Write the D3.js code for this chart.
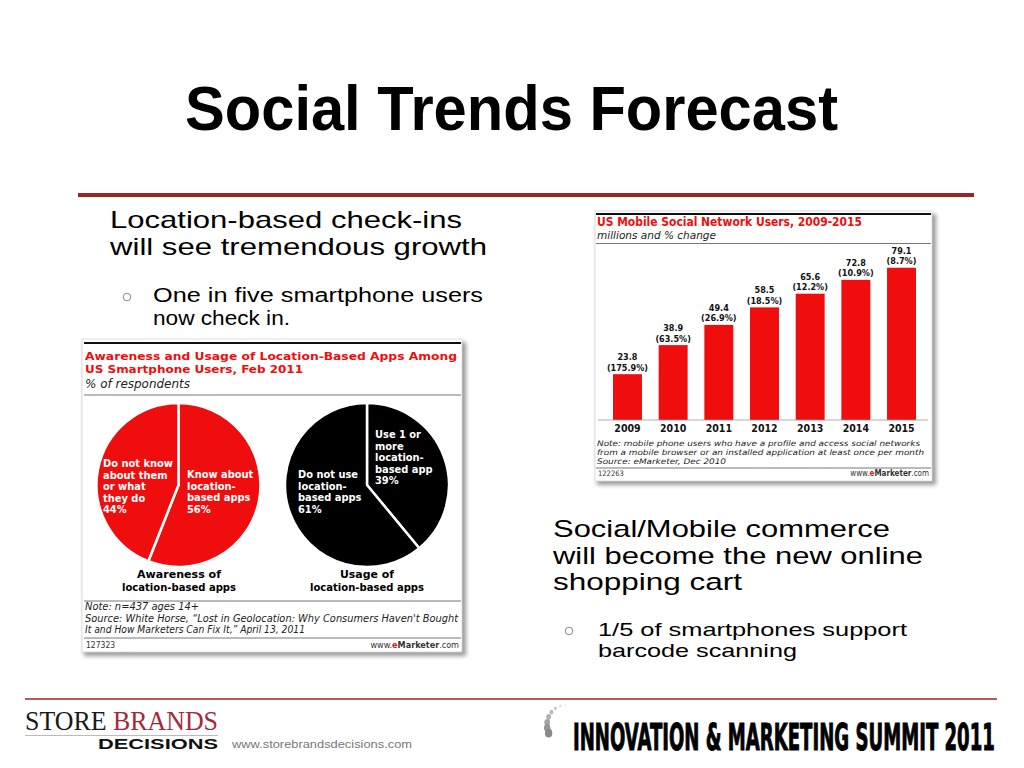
<!DOCTYPE html>
<html>
<head>
<meta charset="utf-8">
<script src="https://d3js.org/d3.v7.min.js"></script>
<style>
  html, body { margin: 0; padding: 0; background: #fff; }
  svg { display: block; }
</style>
</head>
<body>
<svg id="slide" width="1024" height="768"></svg>
<script>
// ---------------- DATA ----------------
const years = ["2009", "2010", "2011", "2012", "2013", "2014", "2015"];
const users = [23.8, 38.9, 49.4, 58.5, 65.6, 72.8, 79.1];
const pctChange = ["175.9%", "63.5%", "26.9%", "18.5%", "12.2%", "10.9%", "8.7%"];

const awarenessCats = ["Know about location-based apps", "Do not know about them or what they do"];
const awarenessValues = [56, 44];
const awarenessLabelLines = [["Know about", "location-", "based apps", "56%"],
                             ["Do not know", "about them", "or what", "they do", "44%"]];
const usageCats = ["Use 1 or more location-based app", "Do not use location-based apps"];
const usageValues = [39, 61];
const usageLabelLines = [["Use 1 or", "more", "location-", "based app", "39%"],
                         ["Do not use", "location-", "based apps", "61%"]];

const slideTitle = "Social Trends Forecast";
const bullet1 = ["Location-based check-ins", "will see tremendous growth"];
const sub1 = ["One in five smartphone users", "now check in."];
const bullet2 = ["Social/Mobile commerce", "will become the new online", "shopping cart"];
const sub2 = ["1/5 of smartphones support", "barcode scanning"];

// ---------------- SETUP ----------------
const svg = d3.select("#slide");
const SANS = "'Liberation Sans', Arial, Helvetica, sans-serif";
const CHART = "'DejaVu Sans Condensed', 'DejaVu Sans', Verdana, sans-serif";
const CHARTW = "'DejaVu Sans', Verdana, sans-serif";
const RED = "#f00d0d";

const defs = svg.append("defs");
const f = defs.append("filter").attr("id", "shadow").attr("x", "-5%").attr("y", "-5%").attr("width", "115%").attr("height", "115%");
f.append("feGaussianBlur").attr("stdDeviation", 2);

function txt(g, x, y, s, o = {}) {
  const t = g.append("text").attr("x", x).attr("y", y).text(s)
    .attr("font-family", o.family || SANS)
    .attr("font-size", o.size || 12)
    .attr("fill", o.fill || "#000");
  if (o.weight) t.attr("font-weight", o.weight);
  if (o.style) t.attr("font-style", o.style);
  if (o.anchor) t.attr("text-anchor", o.anchor);
  if (o.len) t.attr("textLength", o.len).attr("lengthAdjust", "spacingAndGlyphs");
  if (o.ls) t.attr("letter-spacing", o.ls);
  return t;
}
// multi-line block as one text element with tspans
function block(g, x, y, dy, lines, o = {}, lens) {
  const t = txt(g, x, y, "", o);
  lines.forEach((s, i) => {
    const ts = t.append("tspan").attr("x", x).attr("y", y + i * dy).text(s);
    if (lens && lens[i]) ts.attr("textLength", lens[i]).attr("lengthAdjust", "spacingAndGlyphs");
  });
  return t;
}

// ---------------- TITLE & RULE ----------------
txt(svg, 185, 130, slideTitle, { size: 63, weight: "bold", len: 653 });
svg.append("line").attr("x1", 78).attr("x2", 974).attr("y1", 195).attr("y2", 195)
  .attr("stroke", "#922828").attr("stroke-width", 4);

// ---------------- BODY TEXT ----------------
block(svg, 110, 228, 27, bullet1, { size: 24 }, [352, 377]);
svg.append("circle").attr("cx", 127).attr("cy", 297).attr("r", 3.8).attr("fill", "none").attr("stroke", "#888").attr("stroke-width", 1);
block(svg, 153, 302, 22.5, sub1, { size: 20 }, [330, 137]);

block(svg, 553, 537, 26.5, bullet2, { size: 23.7 }, [337, 370, 189]);
svg.append("circle").attr("cx", 569).attr("cy", 631).attr("r", 3.8).attr("fill", "none").attr("stroke", "#888").attr("stroke-width", 1);
block(svg, 598, 636, 21, sub2, { size: 19 }, [309, 199]);

// ---------------- FRAME HELPER ----------------
function frame(x, y, w, h) {
  svg.append("rect").attr("x", x + 2).attr("y", y + 3).attr("width", w + 2).attr("height", h + 1)
    .attr("fill", "#9a9a9a").attr("filter", "url(#shadow)");
  svg.append("rect").attr("x", x).attr("y", y).attr("width", w).attr("height", h)
    .attr("fill", "#fff").attr("stroke", "#d8d8d8").attr("stroke-width", 0.8);
}

// ---------------- LEFT CHART (PIES) ----------------
frame(82, 339, 380, 313);
const L = svg.append("g");
L.append("line").attr("x1", 84).attr("x2", 461).attr("y1", 343).attr("y2", 343).attr("stroke", "#111").attr("stroke-width", 2);
block(L, 85, 360, 13, ["Awareness and Usage of Location-Based Apps Among", "US Smartphone Users, Feb 2011"],
  { family: CHART, size: 11.1, weight: "bold", fill: RED }, [372, 218]);
txt(L, 85, 388, "% of respondents", { family: CHART, size: 12, style: "italic", fill: "#222", len: 105 });
L.append("line").attr("x1", 84).attr("x2", 461).attr("y1", 395).attr("y2", 395).attr("stroke", "#777").attr("stroke-width", 1);

const pie = d3.pie().sort(null).value(d => d);
const arc = d3.arc().innerRadius(0).outerRadius(82);

function drawPie(cx, cy, values, color, labels, labelPos) {
  const g = L.append("g").attr("transform", `translate(${cx},${cy})`);
  g.selectAll("path").data(pie(values)).join("path")
    .attr("d", arc).attr("fill", color)
    .attr("stroke", "#fff").attr("stroke-width", 2.5).attr("stroke-linejoin", "round");
  labels.forEach((lines, i) => {
    block(L, labelPos[i][0], labelPos[i][1], 11.6, lines, { family: CHARTW, size: 9.9, weight: "bold", fill: "#fff" });
  });
}
drawPie(178.5, 485, awarenessValues, RED, awarenessLabelLines, [[187, 478], [103, 467]]);
drawPie(367, 485, usageValues, "#000", usageLabelLines, [[375, 438], [298, 478]]);

block(L, 179, 578, 12.5, ["Awareness of", "location-based apps"], { family: CHARTW, size: 10.7, weight: "bold", anchor: "middle" }, [84, 114]);
block(L, 367, 578, 12.5, ["Usage of", "location-based apps"], { family: CHARTW, size: 10.7, weight: "bold", anchor: "middle" }, [54, 114]);

L.append("line").attr("x1", 84).attr("x2", 461).attr("y1", 601).attr("y2", 601).attr("stroke", "#777").attr("stroke-width", 1);
const leftNotes = ["Note: n=437 ages 14+",
  "Source: White Horse, \u201CLost in Geolocation: Why Consumers Haven't Bought",
  "It and How Marketers Can Fix It,\u201D April 13, 2011"];
block(L, 85, 610, 11.5, leftNotes, { family: CHART, size: 9.8, style: "italic", fill: "#222" }, [114, 373, 220]);
L.append("line").attr("x1", 84).attr("x2", 461).attr("y1", 638).attr("y2", 638).attr("stroke", "#777").attr("stroke-width", 1);
txt(L, 86, 648, "127323", { family: CHART, size: 8.5, fill: "#333" });
const em1 = txt(L, 459, 648, "", { family: CHART, size: 9, fill: "#333", anchor: "end" });
em1.append("tspan").text("www.");
em1.append("tspan").text("e").attr("fill", RED).attr("font-weight", "bold");
em1.append("tspan").text("Marketer").attr("font-weight", "bold");
em1.append("tspan").text(".com");

// ---------------- RIGHT CHART (BARS) ----------------
frame(595, 211, 337, 270);
const R = svg.append("g");
R.append("line").attr("x1", 596).attr("x2", 931).attr("y1", 214).attr("y2", 214).attr("stroke", "#111").attr("stroke-width", 2);
txt(R, 597, 226, "US Mobile Social Network Users, 2009-2015", { family: CHART, size: 11.5, weight: "bold", fill: RED, len: 265 });
txt(R, 597, 238.5, "millions and % change", { family: CHART, size: 11, style: "italic", fill: "#222", len: 119 });
R.append("line").attr("x1", 596).attr("x2", 931).attr("y1", 243.5).attr("y2", 243.5).attr("stroke", "#777").attr("stroke-width", 1);

const x = d3.scaleBand().domain(years).range([613, 916]).paddingInner(0.366).paddingOuter(0);
const y = d3.scaleLinear().domain([0, 100]).range([420, 227.5]);

R.selectAll("rect.bar").data(users).join("rect").attr("class", "bar")
  .attr("x", (d, i) => x(years[i])).attr("width", x.bandwidth())
  .attr("y", d => y(d)).attr("height", d => y(0) - y(d))
  .attr("fill", RED);

const lab = R.selectAll("text.val").data(users).join("text").attr("class", "val")
  .attr("text-anchor", "middle").attr("font-family", CHART).attr("font-weight", "bold").attr("font-size", 9)
  .attr("fill", "#111");
lab.append("tspan").attr("x", (d, i) => x(years[i]) + x.bandwidth() / 2).attr("y", d => y(d) - 14).text(d => d.toFixed(1));
lab.append("tspan").attr("x", (d, i) => x(years[i]) + x.bandwidth() / 2).attr("y", d => y(d) - 3.5)
  .text((d, i) => `(${pctChange[i]})`);

const xAxis = R.append("g").attr("transform", "translate(0,420)")
  .call(d3.axisBottom(x).tickSize(0).tickPadding(0));
xAxis.select(".domain").attr("stroke", "#999").attr("stroke-width", 0.8).attr("d", "M598,0H928");
xAxis.selectAll("text").attr("dy", 0).attr("y", 12).attr("font-family", CHART).attr("font-weight", "bold")
  .attr("font-size", 10.5).attr("fill", "#111");

const rightNotes = ["Note: mobile phone users who have a profile and access social networks",
  "from a mobile browser or an installed application at least once per month",
  "Source: eMarketer, Dec 2010"];
block(R, 597, 446, 9, rightNotes, { family: CHART, size: 7.7, style: "italic", fill: "#222" }, [323, 327, 129]);
R.append("line").attr("x1", 596).attr("x2", 931).attr("y1", 468).attr("y2", 468).attr("stroke", "#777").attr("stroke-width", 1);
txt(R, 598, 476, "122263", { family: CHART, size: 7.5, fill: "#333" });
const em2 = txt(R, 929, 476, "", { family: CHART, size: 8, fill: "#333", anchor: "end" });
em2.append("tspan").text("www.");
em2.append("tspan").text("e").attr("fill", RED).attr("font-weight", "bold");
em2.append("tspan").text("Marketer").attr("font-weight", "bold");
em2.append("tspan").text(".com");

// ---------------- FOOTER ----------------
svg.append("line").attr("x1", 25).attr("x2", 997).attr("y1", 699).attr("y2", 699)
  .attr("stroke", "#b35a5a").attr("stroke-width", 1.8);

const sb = txt(svg, 25, 730, "", { family: "'Liberation Serif', 'Times New Roman', serif", size: 27.5, len: 193 });
sb.append("tspan").text("STORE ").attr("fill", "#1a1a1a");
sb.append("tspan").text("BRANDS").attr("fill", "#a8283a");
svg.append("line").attr("x1", 25).attr("x2", 218).attr("y1", 735.5).attr("y2", 735.5).attr("stroke", "#aaa").attr("stroke-width", 0.8);
txt(svg, 98, 749, "DECISIONS", { family: SANS, size: 15, weight: "bold", fill: "#111", len: 120 });
txt(svg, 232, 748, "www.storebrandsdecisions.com", { family: SANS, size: 11.5, fill: "#777", len: 180 });

// swirl logo decoration (dots along a curve)
const swirl = svg.append("g");
d3.range(8).forEach(k => {
  const a = (92 + k * 16) * Math.PI / 180;
  const r = 20;
  const s = 0.8 + k * 0.5;
  swirl.append("ellipse")
    .attr("cx", 566 + r * Math.cos(a) * 0.95).attr("cy", 725 - r * Math.sin(a))
    .attr("rx", s * 0.85).attr("ry", s)
    .attr("fill", d3.interpolateRgb("#e2e2e2", "#8a8a8a")(k / 7));
});

// summit text, squeezed horizontally with a transform
const sum = svg.append("text").attr("x", 0).attr("y", 0)
  .attr("font-family", "'Liberation Sans Narrow', 'DejaVu Sans Condensed', sans-serif")
  .attr("font-size", 37.5).attr("font-weight", "bold").attr("fill", "#000")
  .attr("stroke", "#000").attr("stroke-width", 1)
  .text("INNOVATION & MARKETING SUMMIT 2011");
const natW = sum.node().getComputedTextLength();
sum.attr("transform", `translate(573,750) scale(${422 / natW},1)`);
</script>
</body>
</html>
